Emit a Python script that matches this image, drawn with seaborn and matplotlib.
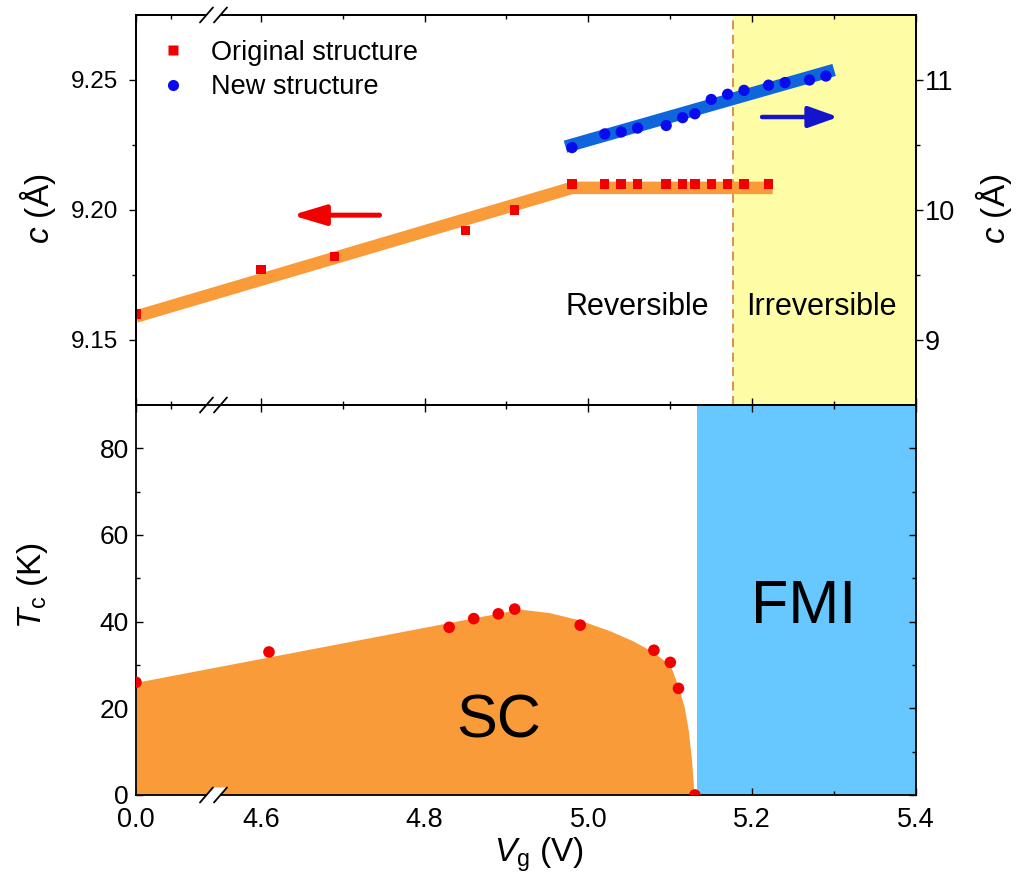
import numpy as np
import pandas as pd
import matplotlib
matplotlib.use("Agg")
import matplotlib.pyplot as plt
import seaborn as sns
from matplotlib.patches import Polygon
from matplotlib.lines import Line2D

# ---------------- data ----------------
# top panel: c-axis lattice parameter
V_ORIG = [0.0, 4.60, 4.69, 4.85, 4.91, 4.98, 5.02, 5.04, 5.06, 5.095, 5.115,
          5.13, 5.15, 5.17, 5.19, 5.22]
C_ORIG = [9.160, 9.177, 9.182, 9.192, 9.200, 9.210, 9.210, 9.210, 9.210, 9.210,
          9.210, 9.210, 9.210, 9.210, 9.210, 9.210]
V_NEW = [4.98, 5.02, 5.04, 5.06, 5.095, 5.115, 5.13, 5.15, 5.17, 5.19, 5.22,
         5.24, 5.27, 5.29]
C_NEW = [10.48, 10.585, 10.60, 10.63, 10.65, 10.71, 10.74, 10.85, 10.89, 10.92,
         10.96, 10.98, 11.00, 11.03]
V_FIT_ORIG = [0.0, 4.98, 5.225]
C_FIT_ORIG = [9.159, 9.2085, 9.2085]
V_FIT_NEW = [4.972, 5.300]
C_FIT_NEW = [10.487, 11.077]
V_BOUNDARY = 5.176
V_IRREV = [5.178, 5.40]

# bottom panel: Tc
V_TC = [0.0, 4.61, 4.83, 4.86, 4.89, 4.91, 4.99, 5.08, 5.10, 5.11, 5.13]
TC = [26.0, 33.0, 38.7, 40.7, 41.8, 42.9, 39.2, 33.4, 30.6, 24.6, 0.0]
V_SC = [0.0, 4.916, 4.952, 4.989, 5.026, 5.054, 5.080, 5.100, 5.110, 5.117,
        5.122, 5.126, 5.129]
T_SC = [26.0, 42.9, 42.1, 40.4, 37.9, 35.6, 32.9, 29.9, 24.9, 20.3,
        14.9, 8.0, 0.0]
V_FMI = [5.132, 5.40]

X_TICK_VALUES = [0.0, 4.6, 4.8, 5.0, 5.2, 5.4]
X_TICK_LABELS = ["0.0", "4.6", "4.8", "5.0", "5.2", "5.4"]

ZERO_POS = 4.4476  # axis position where V = 0 is drawn (broken axis)


def xpos(v):
    v = np.asarray(v, float)
    return np.where(v < 1.0, v + ZERO_POS, v)


ORANGE = "#FA9B3A"
RED = "#F20000"
BLUE_PT = "#0A0AEE"
BLUE_LINE = "#0F66DC"
YELLOW = "#FEFCA4"
SKY = "#66C8FE"

sns.set_theme(style="ticks")
plt.rcParams["font.family"] = ["Liberation Sans", "DejaVu Sans"]
plt.rcParams["mathtext.fontset"] = "custom"
plt.rcParams["mathtext.rm"] = "Liberation Sans"
plt.rcParams["mathtext.it"] = "Liberation Sans:italic"
plt.rcParams["axes.linewidth"] = 1.3
plt.rcParams["axes.edgecolor"] = "black"
plt.rcParams["text.color"] = "black"
plt.rcParams["axes.labelcolor"] = "black"
plt.rcParams["xtick.color"] = "black"
plt.rcParams["ytick.color"] = "black"

fig = plt.figure(figsize=(10.17, 8.8), dpi=100)
fig.patch.set_facecolor("white")
ax_top = fig.add_axes([0.1337, 0.5398, 0.7670, 0.4432])
ax_bot = fig.add_axes([0.1337, 0.0966, 0.7670, 0.4432])

XMIN, XMAX = ZERO_POS, 5.4

# ---------------- top panel ----------------
ax_top.axvspan(V_IRREV[0], V_IRREV[1], color=YELLOW, lw=0, zorder=0)
ax_top.axvline(V_BOUNDARY, color="#D98840", lw=1.3, ls=(0, (5, 3)), zorder=1)
sns.lineplot(x=xpos(V_FIT_ORIG), y=C_FIT_ORIG, ax=ax_top, color=ORANGE, lw=9,
             sort=False, solid_capstyle="butt", zorder=2, estimator=None)
sns.scatterplot(x=xpos(V_ORIG), y=C_ORIG, ax=ax_top, marker="s", s=46,
                color=RED, edgecolor="none", zorder=3, legend=False)
ax_top.set_xlim(XMIN, XMAX)
ax_top.set_ylim(9.125, 9.275)
ax_top.set_yticks([9.15, 9.20, 9.25])
ax_top.set_yticklabels(["9.15", "9.20", "9.25"])
ax_top.set_yticks([9.175, 9.225], minor=True)
ax_top.set_ylabel("$c$ (Å)", fontsize=24)
ax_top.yaxis.set_label_coords(-0.100, 0.503)

ax2 = ax_top.twinx()
sns.lineplot(x=V_FIT_NEW, y=C_FIT_NEW, ax=ax2, color=BLUE_LINE, lw=9,
             sort=False, solid_capstyle="butt", zorder=2, estimator=None)
sns.scatterplot(x=V_NEW, y=C_NEW, ax=ax2, marker="o", s=66, color=BLUE_PT,
                edgecolor="none", zorder=3, legend=False)
ax2.set_xlim(XMIN, XMAX)
ax2.set_ylim(8.5, 11.5)
ax2.set_yticks([9, 10, 11])
ax2.set_yticks([9.5, 10.5], minor=True)
ax2.set_ylabel("$c$ (Å)", fontsize=24)
ax2.yaxis.set_label_coords(1.073, 0.503)

ax_top.annotate("", xy=(4.638, 9.198), xytext=(4.745, 9.198),
                arrowprops=dict(arrowstyle="-|>,head_length=1.0,head_width=0.3",
                                color=RED, lw=3.6, mutation_scale=20,
                                shrinkA=0, shrinkB=0))
ax2.annotate("", xy=(5.305, 10.715), xytext=(5.212, 10.715),
             arrowprops=dict(arrowstyle="-|>,head_length=0.9,head_width=0.32",
                             color="#1414CC", lw=3.2, mutation_scale=20,
                             shrinkA=0, shrinkB=0))
ax_top.text(5.06, 9.1627, "Reversible", fontsize=22, ha="center", va="center")
ax_top.text(5.285, 9.1627, "Irreversible", fontsize=22, ha="center", va="center")

handles = [Line2D([], [], ls="none", marker="s", ms=6.5, color=RED, mec="none"),
           Line2D([], [], ls="none", marker="o", ms=8, color=BLUE_PT, mec="none")]
ax2.legend(handles, ["Original structure", "New structure"], loc="upper left",
           bbox_to_anchor=(0.0, 1.0), frameon=False, fontsize=19.5,
           handlelength=0.9, handletextpad=0.95, labelspacing=0.3,
           borderaxespad=0.42, borderpad=0.5)

# ---------------- bottom panel ----------------
ax_bot.axvspan(V_FMI[0], V_FMI[1], color=SKY, lw=0, zorder=0)
ax_bot.fill_between(xpos(V_SC), T_SC, 0, color=ORANGE, lw=0, zorder=1)
sns.scatterplot(x=xpos(V_TC), y=TC, ax=ax_bot, marker="o", s=70, color=RED,
                edgecolor="none", zorder=3, legend=False)
ax_bot.text(4.891, 16.8, "SC", fontsize=44, ha="center", va="center")
ax_bot.text(5.263, 43.2, "FMI", fontsize=44, ha="center", va="center")
ax_bot.set_xlim(XMIN, XMAX)
ax_bot.set_ylim(0, 90)
ax_bot.set_yticks([0, 20, 40, 60, 80])
ax_bot.set_yticks([10, 30, 50, 70], minor=True)
ax_bot.set_ylabel("$T_{\\mathrm{c}}$ (K)", fontsize=24)
ax_bot.yaxis.set_label_coords(-0.110, 0.538)
ax_bot.set_xlabel("$V_{\\mathrm{g}}$ (V)", fontsize=24)
ax_bot.xaxis.set_label_coords(0.517, -0.103)

# ---------------- tick styling ----------------
MINOR_X = [ZERO_POS + 0.0427, 4.7, 4.9, 5.1, 5.3]
for ax in (ax_top, ax_bot):
    ax.set_xticks(xpos(X_TICK_VALUES))
    ax.set_xticks(MINOR_X, minor=True)
    ax.set_xticklabels(X_TICK_LABELS)
    ax.tick_params(axis="x", which="both", direction="in", top=True, bottom=True)
    ax.tick_params(which="major", length=5, width=1, colors="black")
    ax.tick_params(which="minor", length=3, width=1)
    ax.tick_params(axis="x", labelsize=19.5, pad=9)
    for s in ax.spines.values():
        s.set_visible(True)
        s.set_color("black")
        s.set_linewidth(1.3)
ax_top.tick_params(axis="x", labelbottom=False)
ax_top.tick_params(axis="y", which="both", direction="out", left=True, right=False,
                   labelsize=17.5, pad=7.5)
ax_bot.tick_params(axis="y", which="both", direction="in", left=True, right=True,
                   labelleft=True, labelright=False, labelsize=19, pad=5)
ax2.tick_params(axis="y", which="both", direction="out")
ax2.tick_params(which="major", length=5, width=1, labelsize=19.5, pad=1.5)
ax2.tick_params(which="minor", length=3, width=1)
ax2.tick_params(axis="x", which="both", top=False, bottom=False,
                labeltop=False, labelbottom=False)

# ---------------- axis-break marks ----------------
W_PX, H_PX = 780.0, 390.0
xb = (213.5 - 136) / W_PX


def break_mark(ax, yfrac):
    hw, hh, sep = 6.5 / W_PX, 7.5 / H_PX, 14.0 / W_PX
    gap = Polygon([(xb - sep / 2 - hw, yfrac - hh), (xb + sep / 2 - hw, yfrac - hh),
                   (xb + sep / 2 + hw, yfrac + hh), (xb - sep / 2 + hw, yfrac + hh)],
                  closed=True, transform=ax.transAxes, facecolor="white",
                  edgecolor="none", clip_on=False, zorder=10)
    ax.add_patch(gap)
    for c in (xb - sep / 2, xb + sep / 2):
        ax.plot([c - hw, c + hw], [yfrac - hh, yfrac + hh], transform=ax.transAxes,
                color="black", lw=1.3, clip_on=False, zorder=11)


break_mark(ax2, 1.0)
break_mark(ax_bot, 1.0)
break_mark(ax_bot, 0.0)

fig.savefig("out.png", dpi=100, facecolor="white")
